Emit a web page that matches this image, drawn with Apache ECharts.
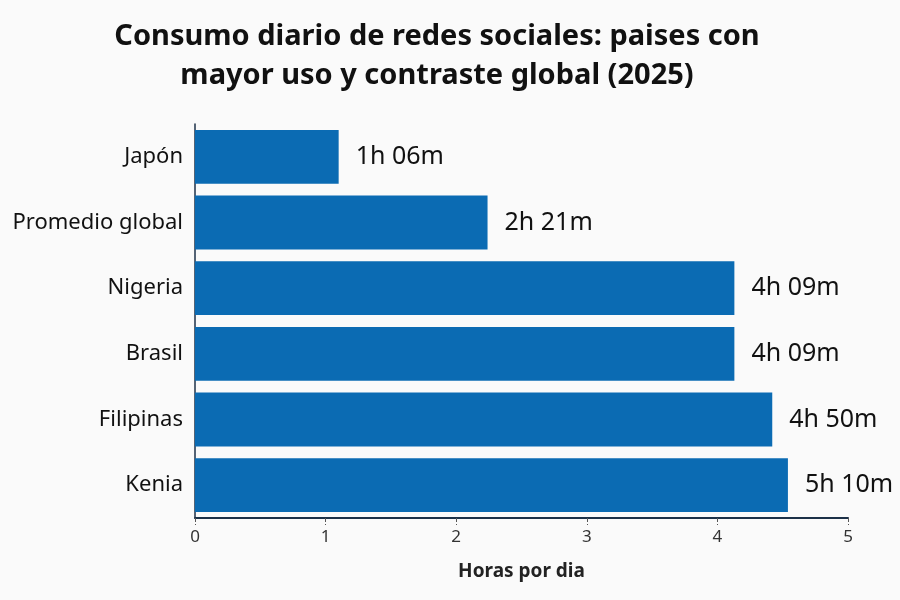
<!DOCTYPE html>
<html>
<head>
<meta charset="utf-8">
<script src="https://cdn.jsdelivr.net/npm/echarts@6/dist/echarts.min.js"></script>
<style>
  html, body { margin: 0; padding: 0; background: #fafafa; }
  #main { width: 900px; height: 600px; }
</style>
</head>
<body>
<div id="main"></div>
<script>
// datos
const paises = ['Japón', 'Promedio global', 'Nigeria', 'Brasil', 'Filipinas', 'Kenia'];
const horas = [1.10, 2.24, 4.13, 4.13, 4.42, 4.54];
const etiquetas = ['1h 06m', '2h 21m', '4h 09m', '4h 09m', '4h 50m', '5h 10m'];
const ticksX = [0, 1, 2, 3, 4, 5];

const chart = echarts.init(document.getElementById('main'));

const option = {
  backgroundColor: '#fafafa',
  title: {
    text: 'Consumo diario de redes sociales: paises con\nmayor uso y contraste global (2025)',
    left: 432,
    top: 12,
    textAlign: 'center',
    textStyle: {
      fontFamily: 'Noto Sans',
      fontSize: 29,
      fontWeight: 'bold',
      color: '#111',
      lineHeight: 39,
    },
  },
  grid: {
    left: 195,
    right: 52,
    top: 124,
    bottom: 82,
  },
  xAxis: {
    type: 'value',
    min: ticksX[0],
    max: ticksX[ticksX.length - 1],
    interval: 1,
    name: 'Horas por dia',
    nameLocation: 'middle',
    nameGap: 44,
    nameTextStyle: {
      fontFamily: 'Noto Sans',
      fontSize: 19,
      fontWeight: 'bold',
      color: '#222',
    },
    axisLine: {
      show: true,
      lineStyle: { color: '#1c3148', width: 2 },
    },
    axisTick: {
      show: true,
      length: 7,
      lineStyle: { color: '#555', type: 'dashed', width: 1 },
    },
    axisLabel: {
      fontFamily: 'Noto Sans',
      fontSize: 17,
      color: '#333',
      margin: 11,
    },
    splitLine: { show: false },
  },
  yAxis: {
    type: 'category',
    inverse: true,
    data: paises,
    axisLine: {
      show: true,
      lineStyle: { color: '#1c3148', width: 1.5 },
    },
    axisTick: { show: false },
    axisLabel: {
      fontFamily: 'Noto Sans',
      fontSize: 22,
      color: '#111',
      margin: 12,
    },
  },
  series: [
    {
      type: 'bar',
      data: horas,
      barCategoryGap: '18%',
      itemStyle: { color: '#0b6bb3' },
      label: {
        show: true,
        position: 'right',
        distance: 17,
        fontFamily: 'Noto Sans',
        fontSize: 25,
        color: '#111',
        formatter: (p) => etiquetas[p.dataIndex],
      },
    },
  ],
};

chart.setOption(option);
</script>
</body>
</html>
